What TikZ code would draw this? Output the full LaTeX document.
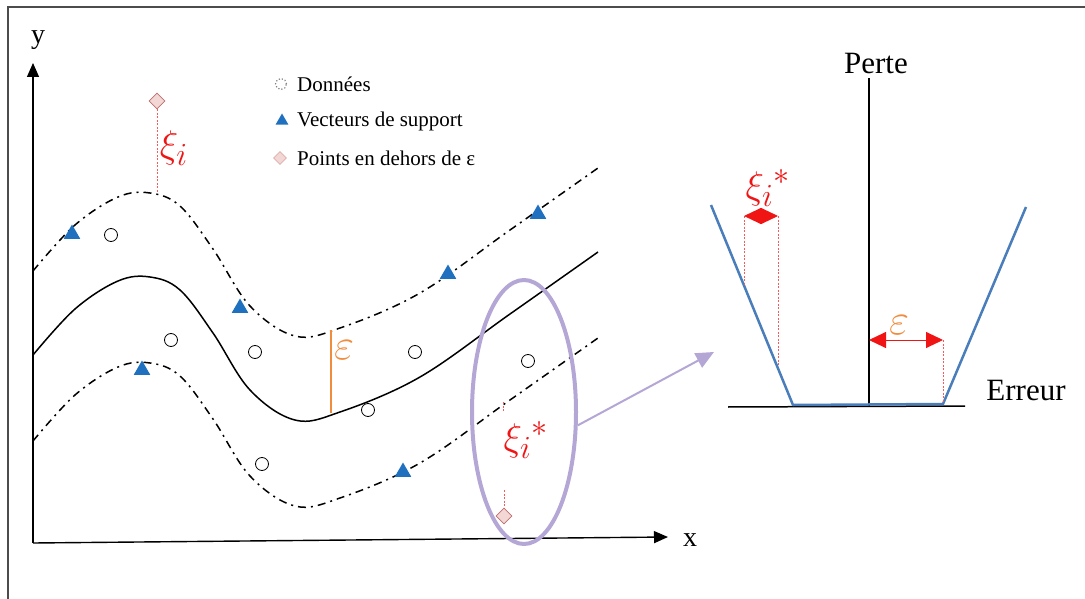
\documentclass[tikz,border=0pt]{standalone}
\usepackage{graphicx}
\usepackage{fontspec}
\setmainfont{Liberation Serif}
\usetikzlibrary{arrows.meta,shapes.geometric}
\definecolor{svblue}{RGB}{31,112,190}
\definecolor{vblue}{RGB}{74,126,187}
\definecolor{lav}{RGB}{180,167,214}
\definecolor{dpink}{RGB}{242,215,213}
\definecolor{dborder}{RGB}{190,110,110}
\definecolor{epsor}{RGB}{240,140,60}
\definecolor{xired}{RGB}{240,20,20}
\newcommand{\bigmath}[1]{\scalebox{1.55}{\fontsize{24.88}{28}\selectfont$#1$}}
\newcommand{\epsmath}[1]{\scalebox{1.75}{\fontsize{24.88}{28}\selectfont$#1$}}
\tikzset{
  axis/.style={line width=1.4pt,-{Triangle[length=14pt,width=12pt]}},
  dcirc/.style={circle,draw=black,line width=0.8pt,minimum size=13pt,inner sep=0pt},
  sv/.style={regular polygon,regular polygon sides=3,fill=svblue,minimum size=19pt,inner sep=0pt},
  outpt/.style={diamond,fill=dpink,draw=dborder,line width=0.8pt,minimum size=16pt,inner sep=0pt},
  dashdotline/.style={line width=1.5pt,dash pattern=on 8pt off 5pt on 2pt off 5pt},
  redthin/.style={xired!70,line width=0.7pt,dash pattern=on 2pt off 1.5pt},
  bigred/.style={xired,line width=0.9pt,{Triangle[length=17pt,width=16pt]}-{Triangle[length=17pt,width=16pt]}},
  lbl/.style={font=\fontsize{21}{24}\selectfont,inner sep=0pt,anchor=west},
  biglbl/.style={font=\fontsize{31}{34}\selectfont,inner sep=0pt},
  axlbl/.style={font=\fontsize{28}{30}\selectfont,inner sep=0pt},
  xilbl/.style={text=xired,inner sep=0pt},
  epslbl/.style={text=epsor,inner sep=0pt},
}
\begin{document}
\begin{tikzpicture}[x=1pt,y=-1pt]
\useasboundingbox (0,0) rectangle (1085,599);
\draw[gray!60!black,line width=1.5pt] (8,599) -- (8,7) -- (1085,7);
% axes
\coordinate (O) at (33,543);
\coordinate (ytip) at (33,63);
\coordinate (xtip) at (668,537);
\draw[axis] (O) -- (ytip);
\draw[axis] (O) -- (xtip);
\node[axlbl] (ylab) at (38,40) {y};
\node[axlbl] (xlab) at (690,540) {x};
% curves
\def\curvepts{(33,355) (75,309) (118,281) (150,277) (180,290) (213,333) (250,390) (295,420) (340,412) (420,377) (510,314) (598,252)}
\draw[line width=1.5pt] plot[smooth,tension=0.6] coordinates {\curvepts};
\begin{scope}[yshift=84pt]
\draw[dashdotline] plot[smooth,tension=0.6] coordinates {\curvepts};
\end{scope}
\begin{scope}[yshift=-86pt]
\draw[dashdotline] plot[smooth,tension=0.6] coordinates {\curvepts};
\end{scope}
% epsilon in left plot
\coordinate (e1) at (331,330);
\coordinate (e2) at (331,413);
\draw[epsor,line width=2pt] (e1) -- (e2);
\node[epslbl] (epsL) at (344,350) {\epsmath{\varepsilon}};
% data points
\node[dcirc] (d1) at (111,235) {};
\node[dcirc] (d2) at (171,340) {};
\node[dcirc] (d3) at (255,352) {};
\node[dcirc] (d4) at (415,352) {};
\node[dcirc] (d5) at (528,361) {};
\node[dcirc] (d6) at (368,410) {};
\node[dcirc] (d7) at (262,464) {};
% support vectors
\node[sv] (s1) at (72,234) {};
\node[sv] (s2) at (240,308) {};
\node[sv] (s3) at (448,274) {};
\node[sv] (s4) at (538,214) {};
\node[sv] (s5) at (142,370) {};
\node[sv] (s6) at (403,472) {};
% outliers
\node[outpt] (o1) at (157,101) {};
\node[outpt] (o2) at (504,516) {};
\coordinate (o1b) at (157,192);
\draw[redthin] (o1.south) -- (o1b);
\node[xilbl] (xi1) at (174,148) {\bigmath{\xi_i}};
\coordinate (o2a) at (504,490);
\draw[redthin] (o2a) -- (o2.north);
\coordinate (o2c) at (503,402);
\coordinate (o2d) at (503,412);
\draw[redthin] (o2c) -- (o2d);
\node[xilbl] (xi2) at (526,440) {\bigmath{\xi_i{}^{*}}};
% ellipse and zoom arrow
\node[ellipse,draw=lav,line width=4pt,minimum width=104pt,minimum height=264pt,inner sep=0pt] (zoomell) at (524,412) {};
\coordinate (ztip) at (714,352);
\draw[lav,line width=2pt,-{Triangle[length=18pt,width=16pt]}] (zoomell.-14) -- (ztip);
% legend
\node[circle,draw=gray,dotted,line width=1.2pt,minimum size=11pt,inner sep=0pt] (lg1) at (281,84) {};
\node[lbl] (lt1) at (297,84) {Données};
\node[sv,minimum size=15pt] (lg2) at (282,121) {};
\node[lbl] (lt2) at (297,121) {Vecteurs de support};
\node[outpt,draw=dpink!60!dborder,fill=dpink,minimum size=13pt] (lg3) at (280,158) {};
\node[lbl] (lt3) at (297,158) {Points en dehors de ε};
% right plot
\coordinate (pbot) at (869,407);
\coordinate (ptop) at (869,78);
\draw[line width=1.5pt] (pbot) -- (ptop);
\node[biglbl] (perte) at (876,64) {Perte};
\coordinate (h1) at (728,407);
\coordinate (h2) at (965,406);
\draw[line width=1.5pt] (h1) -- (h2);
\node[biglbl] (erreur) at (1026,390) {Erreur};
\coordinate (v1) at (711,205);
\coordinate (v2) at (793,405);
\coordinate (v3) at (943,404);
\coordinate (v4) at (1026,207);
\draw[vblue,line width=2.5pt,line join=round] (v1) -- (v2) -- (v3) -- (v4);
% xi* in right plot
\coordinate (a1) at (744,216);
\coordinate (a2) at (778,216);
\coordinate (a1b) at (744,285);
\coordinate (a2b) at (778,366);
\draw[redthin] (a1) -- (a1b);
\draw[redthin] (a2) -- (a2b);
\draw[bigred] (a1) -- (a2);
\node[xilbl] (xi3) at (768,188) {\bigmath{\xi_i{}^{*}}};
% epsilon in right plot
\coordinate (b1) at (869,340);
\coordinate (b2) at (943,340);
\coordinate (b2b) at (943,402);
\draw[bigred] (b1) -- (b2);
\draw[redthin] (b2) -- (b2b);
\node[epslbl] (epsR) at (899,325) {\epsmath{\varepsilon}};
\end{tikzpicture}
\end{document}
